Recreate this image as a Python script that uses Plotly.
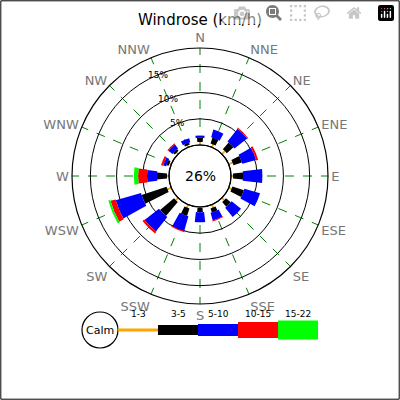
import plotly.graph_objects as go

directions = ['N', 'NNE', 'NE', 'ENE', 'E', 'ESE', 'SE', 'SSE',
              'S', 'SSW', 'SW', 'WSW', 'W', 'WNW', 'NW', 'NNW']
angles = [22.5 * i for i in range(16)]
speed_classes = ['1-3', '3-5', '5-10', '10-15', '15-22']
colors = ['orange', 'black', 'blue', 'red', '#00ff00']
widths = [3, 9, 13, 14, 15]

# frequency (%) per direction for each speed class
freq_1_3 = [0.6, 0.6, 0.8, 0.8, 0.4, 0.6, 0.6, 0.6, 0.2, 0.6, 0.6, 0.8, 0.4, 0.4, 0.4, 0.4]
freq_3_5 = [0.8, 1.2, 1.7, 1.7, 1.9, 2.3, 1.2, 0.8, 0.8, 1.5, 3.5, 5.0, 1.9, 0.4, 0.4, 0.4]
freq_5_10 = [0.4, 1.5, 3.1, 2.7, 3.7, 3.1, 2.3, 1.5, 1.9, 2.9, 3.5, 5.0, 1.9, 0.6, 1.0, 0.8]
freq_10_15 = [0, 0, 0.2, 0.4, 0, 0, 0, 0.2, 0, 0.2, 0.4, 1.0, 1.7, 0.4, 0.2, 0]
freq_15_22 = [0, 0, 0, 0, 0, 0, 0, 0, 0, 0, 0, 0.4, 0.8, 0, 0, 0]
calm = 26
radial_ticks = [5, 10, 15]

series = [freq_1_3, freq_3_5, freq_5_10, freq_10_15, freq_15_22]

fig = go.Figure()
for name, vals, c, w in zip(speed_classes, series, colors, widths):
    fig.add_trace(go.Barpolar(r=vals, theta=angles, name=name,
                              marker_color=c, marker_line_width=0,
                              width=[w] * len(directions), showlegend=False))

# hidden pixel axes for the legend strip
fig.add_trace(go.Scatter(x=[0], y=[0], mode='markers', marker_opacity=0,
                         showlegend=False, hoverinfo='skip'))

font = 'DejaVu Sans'
shapes = [
    dict(type='rect', xref='paper', yref='paper', x0=0.002, y0=0.002, x1=0.998, y1=0.998,
         line=dict(color='black', width=1)),
    dict(type='circle', xref='x', yref='y', x0=169, y0=145, x1=231, y1=207,
         line=dict(color='black', width=1.2)),
    dict(type='circle', xref='x', yref='y', x0=82, y0=312, x1=118, y1=348,
         line=dict(color='black', width=1.2)),
    dict(type='line', xref='x', yref='y', x0=118, y0=330, x1=158, y1=330,
         line=dict(color='orange', width=3)),
]
legend_boxes = [(158, 198, 10), (198, 238, 12), (238, 278, 16), (278, 318, 19)]
for (x0, x1, h), c in zip(legend_boxes, colors[1:]):
    shapes.append(dict(type='rect', xref='x', yref='y', x0=x0, x1=x1,
                       y0=330 - h / 2, y1=330 + h / 2, fillcolor=c, line_width=0))

annotations = [
    dict(x=200, y=176, xref='x', yref='y', text=f'{calm}%', showarrow=False,
         font=dict(size=14, color='black', family=font)),
    dict(x=100, y=330, xref='x', yref='y', text='Calm', showarrow=False,
         font=dict(size=11, color='black', family=font)),
]
for i, lab in enumerate(speed_classes):
    annotations.append(dict(x=138 + 40 * i, y=314, xref='x', yref='y', text=lab,
                            showarrow=False, font=dict(size=9, color='black', family=font)))
# radial tick labels, kept horizontal
for v, (tx, ty) in zip(radial_ticks, [(177, 123), (168, 99), (158, 75)]):
    annotations.append(dict(x=tx, y=ty, xref='x', yref='y', text=f'{v}%', showarrow=False,
                            font=dict(size=9, color='black', family=font)))

fig.update_layout(
    width=400, height=400, margin=dict(l=0, r=0, t=0, b=0),
    paper_bgcolor='white', plot_bgcolor='white',
    title=dict(text='Windrose (km/h)', x=0.5, y=0.965, xanchor='center',
               font=dict(size=15, color='black', family=font)),
    barmode='stack',
    xaxis=dict(range=[0, 400], visible=False, domain=[0, 1], fixedrange=True),
    yaxis=dict(range=[400, 0], visible=False, domain=[0, 1], fixedrange=True),
    polar=dict(
        domain=dict(x=[0.18, 0.82], y=[0.24, 0.88]),
        bgcolor='rgba(0,0,0,0)',
        hole=0.242,
        radialaxis=dict(range=[0, 18.5], tickvals=radial_ticks, showticklabels=False,
                        showline=False, ticks='', gridcolor='black', gridwidth=1),
        angularaxis=dict(direction='clockwise', rotation=90, showline=True,
                         tickvals=angles, ticktext=directions,
                         linecolor='black', linewidth=1.2, ticks='',
                         gridcolor='green', griddash='dash', gridwidth=0.6,
                         tickfont=dict(size=13, color='#777777', family=font)),
    ),
    shapes=shapes, annotations=annotations,
)
fig.write_html('out.html', post_script="document.body.style.margin='0';")
